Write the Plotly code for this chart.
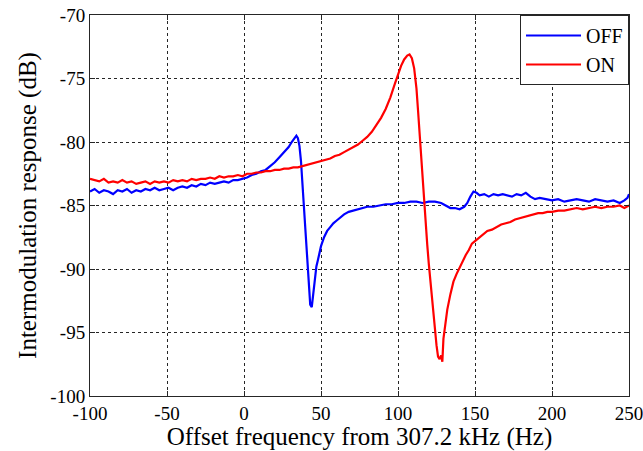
import plotly.graph_objects as go

# Intermodulation response vs. offset frequency (Hz), resonator OFF
off_freq = [-100, -97, -94, -91, -88, -85, -82, -79, -76, -73, -70, -67, -64, -61, -58,
            -55, -52, -49, -46, -43, -40, -37, -34, -31, -28, -25, -22, -19, -16, -13,
            -10, -7, -4, -1, 2, 5, 8, 11, 14, 17, 20, 23, 26, 29, 31, 33, 34, 35, 36,
            37, 38, 39, 40, 41, 42, 43, 44, 45, 46, 47, 48, 50, 52, 54, 56, 58, 60, 62,
            65, 68, 71, 74, 77, 80, 84, 88, 92, 96, 100, 104, 108, 112, 116, 120, 124,
            128, 131, 134, 137, 140, 143, 145, 147, 149, 151, 153, 156, 159, 162, 165,
            168, 171, 174, 177, 180, 183, 186, 189, 192, 196, 200, 204, 208, 212, 216,
            220, 224, 228, 232, 236, 240, 244, 247, 249, 250]
off_db = [-83.9, -83.7, -84.0, -83.8, -83.9, -84.1, -83.8, -83.9, -83.7, -84.0, -83.8,
          -83.9, -83.7, -83.8, -83.6, -83.8, -83.7, -83.6, -83.8, -83.6, -83.5, -83.6,
          -83.4, -83.5, -83.3, -83.4, -83.2, -83.3, -83.2, -83.1, -83.2, -83.0, -83.0,
          -82.9, -82.8, -82.6, -82.5, -82.3, -82.2, -81.9, -81.6, -81.2, -80.8, -80.4,
          -80.0, -79.7, -79.5, -79.7, -80.3, -81.5, -83.5, -85.5, -87.5, -89.5, -91.5,
          -92.8, -93.0, -92.0, -90.6, -89.8, -89.3, -88.2, -87.5, -87.0, -86.7, -86.4,
          -86.2, -86.0, -85.7, -85.5, -85.4, -85.3, -85.2, -85.1, -85.1, -85.0, -84.9,
          -84.9, -84.8, -84.8, -84.7, -84.7, -84.8, -84.7, -84.7, -84.8, -85.0, -85.2,
          -85.2, -85.3, -85.1, -84.8, -84.3, -83.9, -84.0, -84.2, -84.1, -84.3, -84.1,
          -84.2, -84.1, -84.2, -84.3, -84.1, -84.2, -84.0, -84.3, -84.5, -84.4, -84.5,
          -84.6, -84.5, -84.7, -84.6, -84.5, -84.6, -84.7, -84.5, -84.6, -84.7, -84.6,
          -84.8, -84.6, -84.4, -84.1]

# Resonator ON
on_freq = [-100, -97, -94, -91, -88, -85, -82, -79, -76, -73, -70, -67, -64, -61, -58,
           -55, -52, -49, -46, -43, -40, -37, -34, -31, -28, -25, -22, -19, -16, -13,
           -10, -7, -4, -1, 2, 5, 8, 11, 14, 17, 20, 23, 26, 29, 32, 35, 38, 41, 44,
           47, 50, 53, 56, 59, 62, 65, 68, 71, 74, 77, 80, 83, 86, 89, 92, 95, 98, 100,
           102, 104, 106, 107.5, 109, 110.5, 112, 113, 114, 115, 116, 117, 118, 119,
           120, 121, 122, 123, 124, 125, 126, 127, 128, 128.8, 129.5, 130.5, 132, 134,
           136, 138, 140, 142, 144, 146, 148, 150, 152, 155, 158, 161, 164, 167, 170,
           173, 176, 179, 182, 185, 188, 191, 194, 197, 200, 204, 208, 212, 216, 220,
           224, 228, 232, 236, 240, 244, 247, 250]
on_db = [-82.9, -83.0, -83.1, -82.9, -83.2, -83.1, -83.2, -83.0, -83.2, -83.1, -83.3,
         -83.2, -83.1, -83.3, -83.1, -83.2, -83.1, -83.2, -83.0, -83.1, -83.0, -83.1,
         -82.9, -83.0, -82.9, -82.9, -82.8, -82.9, -82.7, -82.8, -82.7, -82.7, -82.6,
         -82.7, -82.5, -82.5, -82.4, -82.4, -82.3, -82.3, -82.2, -82.2, -82.1, -82.1,
         -82.0, -82.0, -81.9, -81.8, -81.7, -81.6, -81.5, -81.4, -81.3, -81.1, -81.0,
         -80.8, -80.6, -80.4, -80.2, -79.9, -79.6, -79.2, -78.7, -78.1, -77.4, -76.5,
         -75.4, -74.6, -74.0, -73.5, -73.2, -73.1, -73.4, -74.2, -75.8, -77.5, -79.4,
         -81.3, -83.2, -85.0, -86.6, -88.1, -89.6, -91.0, -92.3, -93.6, -94.8, -96.0,
         -96.9, -97.1, -96.8, -97.3, -95.5, -94.4, -93.2, -92.0, -91.0, -90.4, -89.9,
         -89.3, -88.9, -88.5, -88.0, -87.8, -87.6, -87.3, -87.0, -86.9, -86.7, -86.5,
         -86.4, -86.3, -86.1, -86.0, -85.9, -85.8, -85.7, -85.6, -85.6, -85.5, -85.5,
         -85.4, -85.4, -85.3, -85.2, -85.3, -85.2, -85.1, -85.2, -85.1, -85.1, -85.0,
         -85.2, -85.0]

x_ticks = [-100, -50, 0, 50, 100, 150, 200, 250]
x_tick_text = ["-100", "-50", "0", "50", "100", "150", "200", "250"]
y_ticks = [-100, -95, -90, -85, -80, -75, -70]
y_tick_text = ["-100", "-95", "-90", "-85", "-80", "-75", "-70"]

FONT = "Liberation Serif"

fig = go.Figure()
fig.add_trace(go.Scatter(x=off_freq, y=off_db, mode="lines", name="OFF",
                         line=dict(color="#0000FF", width=2.2)))
fig.add_trace(go.Scatter(x=on_freq, y=on_db, mode="lines", name="ON",
                         line=dict(color="#FF0000", width=2.2)))

axis_common = dict(
    showline=True, linecolor="#262626", linewidth=1, mirror="ticks",
    ticks="inside", ticklen=5, tickcolor="#262626",
    showgrid=True, gridcolor="#262626", gridwidth=1, griddash="3px,3px",
    zeroline=False, automargin=False, ticklabeloverflow="allow",
    tickfont=dict(family=FONT, size=19, color="black"),
)

fig.update_xaxes(range=[-100, 250], tickvals=x_ticks, ticktext=x_tick_text,
                 title=dict(text="Offset frequency from 307.2 kHz (Hz)",
                            font=dict(family=FONT, size=25, color="black"), standoff=2),
                 **axis_common)
fig.update_yaxes(range=[-100, -70], tickvals=y_ticks, ticktext=y_tick_text,
                 title=dict(text="Intermodulation response (dB)",
                            font=dict(family=FONT, size=25, color="black"), standoff=6),
                 **axis_common)

fig.update_layout(
    width=643, height=451,
    margin=dict(l=90, r=14, t=15, b=55),
    paper_bgcolor="white", plot_bgcolor="white",
    font=dict(family=FONT, color="black"),
    showlegend=True,
    legend=dict(x=1, y=1, xanchor="right", yanchor="top",
                bgcolor="white", bordercolor="#262626", borderwidth=1,
                font=dict(family=FONT, size=20, color="black"),
                itemwidth=55, tracegroupgap=0),
)

fig.write_html("out.html")
